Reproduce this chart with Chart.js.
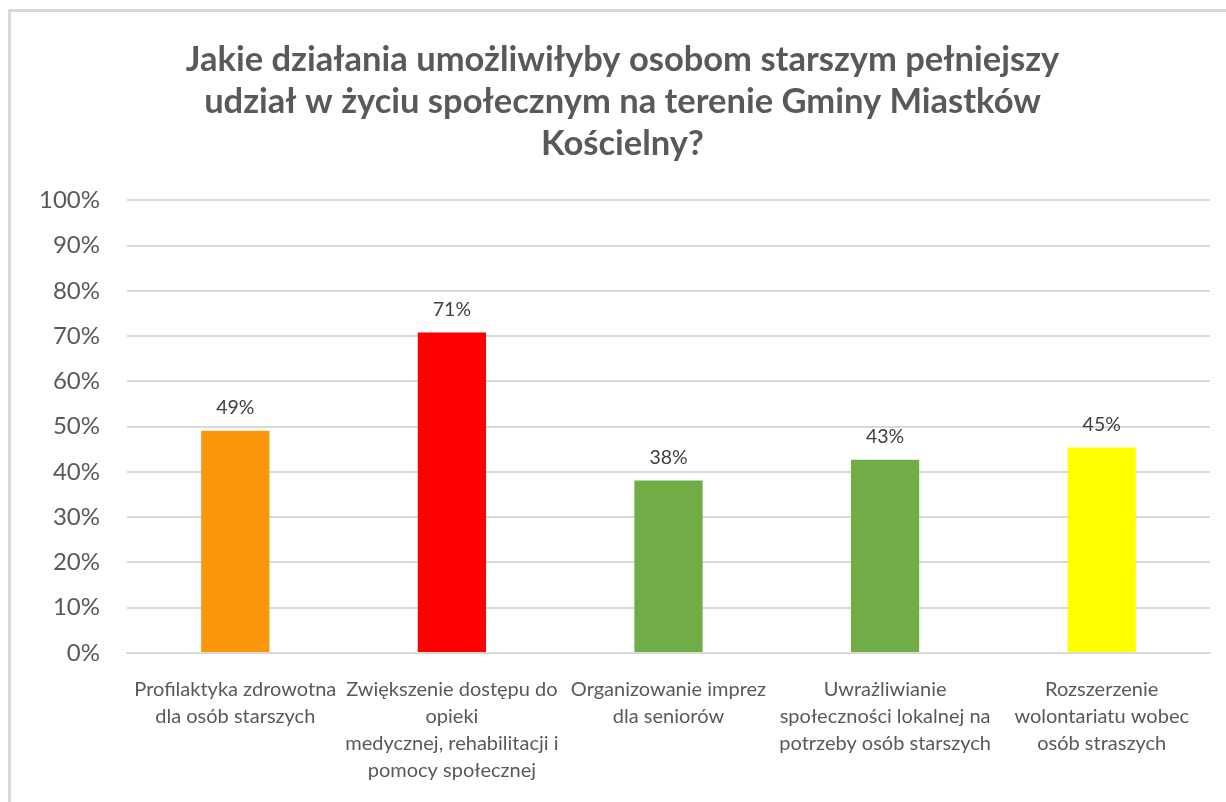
<!DOCTYPE html>
<html lang="pl">
<head>
<meta charset="utf-8">
<script src="https://cdn.jsdelivr.net/npm/chart.js@4/dist/chart.umd.min.js"></script>
<style>
    html, body { margin: 0; padding: 0; background: #fff; overflow: hidden; }
    body { width: 1226px; height: 802px; position: relative; }
    #frame {
        position: absolute; left: 8px; top: 9px; width: 1400px; height: 1000px;
        border-left: 3px solid #d9d9d9; border-top: 3px solid #d9d9d9;
    }
    #wrap { position: absolute; left: 11px; top: 12px; width: 1215px; height: 790px; }
</style>
</head>
<body>
<div id="frame"></div>
<div id="wrap"><canvas id="chart"></canvas></div>
<script>
const titleLines = [
    "Jakie działania umożliwiłyby osobom starszym pełniejszy",
    "udział w życiu społecznym na terenie Gminy Miastków",
    "Kościelny?"
];
const categories = [
    ["Profilaktyka zdrowotna", "dla osób starszych"],
    ["Zwiększenie dostępu do", "opieki", "medycznej, rehabilitacji i", "pomocy społecznej"],
    ["Organizowanie imprez", "dla seniorów"],
    ["Uwrażliwianie", "społeczności lokalnej na", "potrzeby osób starszych"],
    ["Rozszerzenie", "wolontariatu wobec", "osób straszych"]
];
const shares = [0.491, 0.708, 0.381, 0.427, 0.454];
const barColors = ["#f9960a", "#ff0000", "#70ad47", "#70ad47", "#ffff00"];

const FONT = "Lato, 'Open Sans', sans-serif";
const pct = v => Math.round(v * 100) + "%";

// etykiety nad słupkami
const valueLabels = {
    id: "valueLabels",
    afterDatasetsDraw(chart) {
        const ctx = chart.ctx;
        const meta = chart.getDatasetMeta(0);
        ctx.save();
        ctx.font = "19.5px " + FONT;
        ctx.fillStyle = "#404040";
        ctx.textAlign = "center";
        ctx.textBaseline = "bottom";
        meta.data.forEach((bar, i) => {
            ctx.fillText(pct(shares[i]), bar.x, bar.y - 13);
        });
        ctx.restore();
    }
};

new Chart(document.getElementById("chart"), {
    type: "bar",
    data: {
        labels: categories,
        datasets: [{
            data: shares,
            backgroundColor: barColors,
            barPercentage: 0.315,
            categoryPercentage: 1
        }]
    },
    options: {
        responsive: true,
        maintainAspectRatio: false,
        animation: false,
        layout: { padding: { left: 24, right: 16, top: 0, bottom: 0 } },
        plugins: {
            legend: { display: false },
            tooltip: { enabled: false },
            title: {
                display: true,
                text: titleLines,
                color: "#595959",
                font: { family: FONT, size: 34.5, weight: "bold", lineHeight: 1.22 },
                padding: { top: 27, bottom: 35 }
            }
        },
        scales: {
            x: {
                afterFit(scale) { scale.height = 149; },
                grid: { display: false, drawTicks: false },
                border: { color: "#d9d9d9", width: 2 },
                ticks: {
                    color: "#595959",
                    font: { family: FONT, size: 20, lineHeight: 1.35 },
                    padding: 23,
                    maxRotation: 0,
                    autoSkip: false
                }
            },
            y: {
                min: 0,
                max: 1,
                afterFit(scale) { scale.width = 92; },
                grid: { color: "#d9d9d9", lineWidth: 2, drawTicks: false },
                border: { display: false },
                ticks: {
                    stepSize: 0.1,
                    color: "#595959",
                    font: { family: FONT, size: 24 },
                    padding: 27,
                    callback: v => pct(v)
                }
            }
        }
    },
    plugins: [valueLabels]
});
</script>
</body>
</html>
